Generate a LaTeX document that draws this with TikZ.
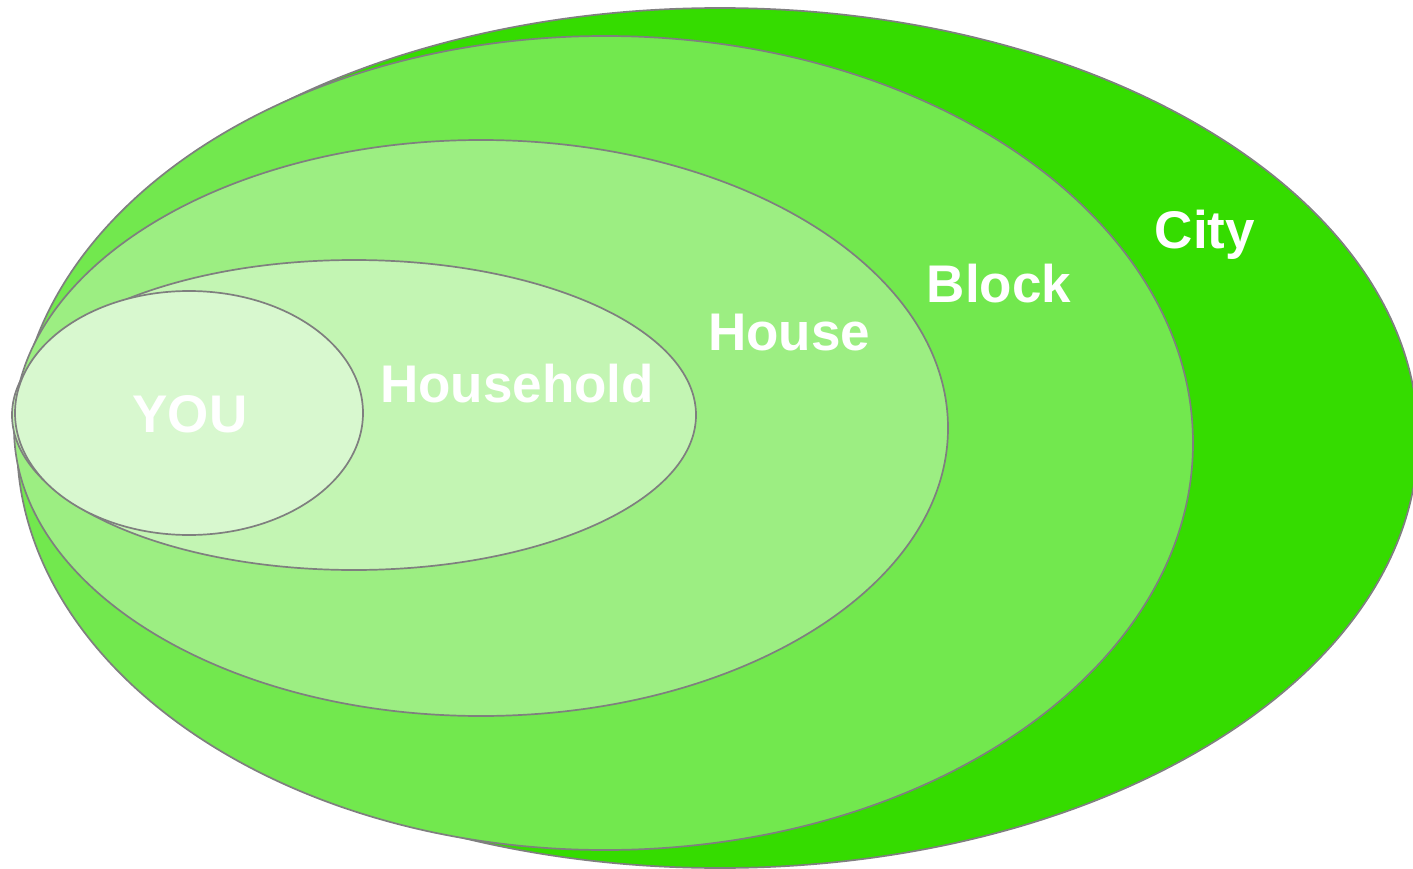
\documentclass[tikz,border=0pt]{standalone}
\usepackage{fontspec}
\setmainfont{Liberation Sans}
\definecolor{cityc}{HTML}{35DC00}
\definecolor{blockc}{HTML}{72E84E}
\definecolor{housec}{HTML}{9CEE82}
\definecolor{holdc}{HTML}{C3F5B3}
\definecolor{youc}{HTML}{D8F8CF}
\definecolor{edgec}{HTML}{7F7F7F}
\tikzset{
  ring/.style={draw=edgec, line width=1.7pt},
  lbl/.style={text=white, font=\fontsize{53}{60}\selectfont\bfseries, inner sep=0pt, anchor=center}
}
\begin{document}
\begin{tikzpicture}[x=1pt,y=-1pt]
\useasboundingbox (0,0) rectangle (1413,869);
\path[ring, fill=cityc] (720,438) ellipse [x radius=698, y radius=430];
\path[ring, fill=blockc] (605,443) ellipse [x radius=588, y radius=407];
\path[ring, fill=housec] (481,428) ellipse [x radius=467, y radius=288];
\path[ring, fill=holdc] (354,415) ellipse [x radius=342, y radius=155];
\path[ring, fill=youc] (189,413) ellipse [x radius=174, y radius=122];
\node[lbl] (city) at (1205,235) {City};
\node[lbl] (block) at (999,284) {Block};
\node[lbl] (house) at (789,333) {House};
\node[lbl] (household) at (517,384) {Household};
\node[lbl] (you) at (190,414) {YOU};
\end{tikzpicture}
\end{document}
